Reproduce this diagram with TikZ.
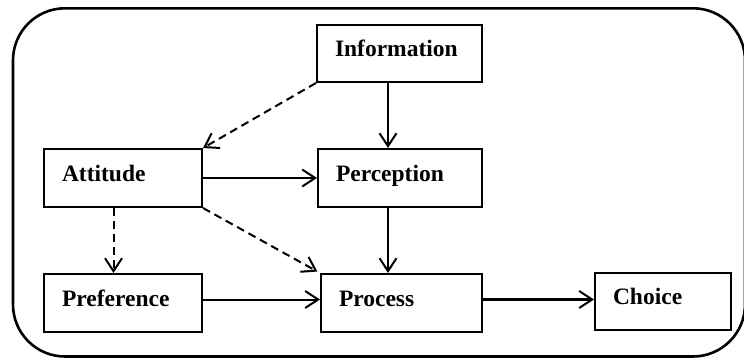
\documentclass[tikz,border=0pt]{standalone}
\usepackage{fontspec}
\setmainfont{Liberation Serif}
\usetikzlibrary{arrows.meta}
\begin{document}
\begin{tikzpicture}[x=1pt,y=1pt,
  bx/.style={draw, line width=2pt, font=\bfseries\fontsize{23.5}{26}\selectfont,
    inner xsep=18pt, inner ysep=0pt, minimum height=58pt,
    text height=16pt, text depth=10pt, align=left},
  arr/.style={line width=2pt, -{Straight Barb[length=13pt,width=17pt,line width=2pt]}},
  darr/.style={arr, dash pattern=on 8pt off 5pt},
  frame/.style={line width=2.6pt}]
\useasboundingbox (0,0) rectangle (744,360);
% outer frame
\begin{scope}
\clip (0,0) rectangle (744,360);
\draw[frame] (65,351.7) -- (693,351.7)
  arc[start angle=90,end angle=0,radius=52] -- (745,55.5)
  arc[start angle=0,end angle=-90,radius=52] -- (65,3.5)
  arc[start angle=270,end angle=180,radius=52] -- (13,299.7)
  arc[start angle=180,end angle=90,radius=52] -- cycle;
\end{scope}
% boxes
\node[bx, text width=129pt, minimum height=57pt] (info) at (399.5,306.5) {Information};
\node[bx, text width=122pt] (att) at (123,182) {Attitude};
\node[bx, text width=128pt] (perc) at (400,182) {Perception};
\node[bx, text width=122pt] (pref) at (123,57) {Preference};
\node[bx, text width=125pt] (proc) at (401.5,57) {Process};
\node[bx, text width=100pt, minimum height=57pt] (choice) at (663,59) {Choice};
% helper coordinates
\coordinate (xa) at (388,0);
\coordinate (xb) at (113.5,0);
\coordinate (ya) at (0,60.5);
% connectors
\draw[arr] (info.south -| xa) -- (perc.north -| xa);
\draw[arr] (perc.south -| xa) -- (proc.north -| xa);
\draw[arr] (att.east) -- (perc.west);
\draw[arr] (pref.east |- ya) -- (proc.west |- ya);
\draw[arr, line width=2.6pt] (proc.east |- ya) -- (choice.west |- ya);
\draw[darr] (info.south west) -- (att.north east);
\draw[darr] (att.south -| xb) -- (pref.north -| xb);
\draw[darr, shorten >=3pt] (att.south east) -- (proc.north west);
\end{tikzpicture}
\end{document}
